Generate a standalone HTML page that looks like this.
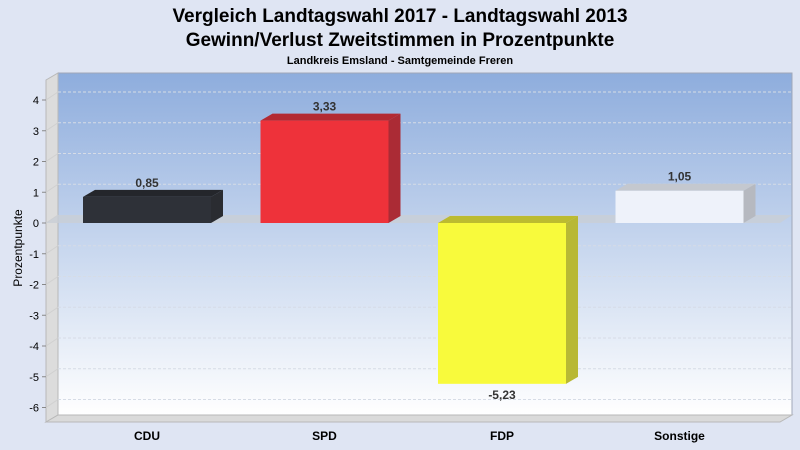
<!DOCTYPE html>
<html><head><meta charset="utf-8"><style>
body{margin:0;background:#dfe5f3;font-family:"Liberation Sans",sans-serif}
svg{display:block}
</style></head><body>
<svg width="800" height="450">
<defs>
<linearGradient id="bg" x1="0" y1="0" x2="0" y2="1"><stop offset="0" stop-color="#8eaddd"/><stop offset="1" stop-color="#ffffff"/></linearGradient>
</defs>
<rect width="800" height="450" fill="#dfe5f3"/>
<text x="400" y="22" text-anchor="middle" font-size="19" font-weight="bold" fill="#000">Vergleich Landtagswahl 2017 - Landtagswahl 2013</text>
<text x="400" y="46" text-anchor="middle" font-size="19" font-weight="bold" fill="#000">Gewinn/Verlust Zweitstimmen in Prozentpunkte</text>
<text x="400" y="64" text-anchor="middle" font-size="11" font-weight="bold" fill="#000">Landkreis Emsland - Samtgemeinde Freren</text>
<g id="plot"></g>
<text transform="translate(22,248) rotate(-90)" text-anchor="middle" font-size="12" fill="#000">Prozentpunkte</text>
</svg>
<script>
const categories=["CDU","SPD","FDP","Sonstige"];
const values=[0.85,3.33,-5.23,1.05];
const labels=["0,85","3,33","-5,23","1,05"];
const ticks=[4,3,2,1,0,-1,-2,-3,-4,-5,-6];
const fronts=["#2e3138","#ee323a","#f8fa3c","#eef2fa"];
const tops=["#24262b","#b32a33","#bcbb30","#c4c8cf"];
const sides=["#2a2c31","#ab2b35","#b8b834","#b6b9c0"];
const NS="http://www.w3.org/2000/svg";
const g=document.getElementById('plot');
const DX=12,DY=-7;
function y(v){return 223-v*30.75;}
function x(i){return 83+i*177.5;}
const BW=128;
function mk(t,a,p){const e=document.createElementNS(NS,t);for(const k in a)e.setAttribute(k,a[k]);(p||g).appendChild(e);return e;}
let e;
e=mk('rect',{x:58,y:73,width:734,height:342,fill:'url(#bg)',stroke:'#a0a8b8'});


e=mk('polygon',{points:'46,80 58,73 58,415 46,422',fill:'#dcdcdc',stroke:'#b8b8b8'});


e=mk('polygon',{points:'46,422 58,415 792,415 780,422',fill:'#dadada',stroke:'#b8b8b8'});


ticks.forEach(t=>{
  const yy=y(t);
  const l=mk('line',{x1:58,y1:yy+DY-1,x2:792,y2:yy+DY-1,stroke:t===0?'none':'#d6dce6','stroke-dasharray':'3,2'});
  
  
  const s=mk('line',{x1:46,y1:yy,x2:58,y2:yy+DY-1,stroke:'#d0d0d0'});
  
  
  const tk=mk('line',{x1:42,y1:yy,x2:46,y2:yy,stroke:'#888'});
  
  
  const tx=mk('text',{x:39,y:yy+4,'text-anchor':'end','font-size':11,fill:'#000'});
  tx.textContent=t;
  
  
});
e=mk('polygon',{points:`46,${y(0)} 58,${y(0)+DY-1} 792,${y(0)+DY-1} 780,${y(0)}`,fill:'#c9ced6',opacity:0.8});


values.forEach((v,i)=>{
  const x0=x(i),x1=x0+BW;
  const ya=y(Math.max(v,0)),yb=y(Math.min(v,0));
  const bg=mk('g',{});
  
  
  mk('polygon',{points:`${x1},${ya} ${x1+DX},${ya+DY} ${x1+DX},${yb+DY} ${x1},${yb}`,fill:sides[i]},bg);
  mk('polygon',{points:`${x0},${ya} ${x0+DX},${ya+DY} ${x1+DX},${ya+DY} ${x1},${ya}`,fill:tops[i]},bg);
  mk('rect',{x:x0,y:ya,width:BW,height:yb-ya,fill:fronts[i]},bg);
  const ly=v>=0?ya-10:yb+15;
  const t=mk('text',{x:x0+BW/2,y:ly,'text-anchor':'middle','font-size':12,'font-weight':'bold',fill:'#333'});
  t.textContent=labels[i];
  
  
  const c=mk('text',{x:x0+BW/2,y:440,'text-anchor':'middle','font-size':12,'font-weight':'bold',fill:'#000'});
  c.textContent=categories[i];
  
  
});
</script>
</body></html>
